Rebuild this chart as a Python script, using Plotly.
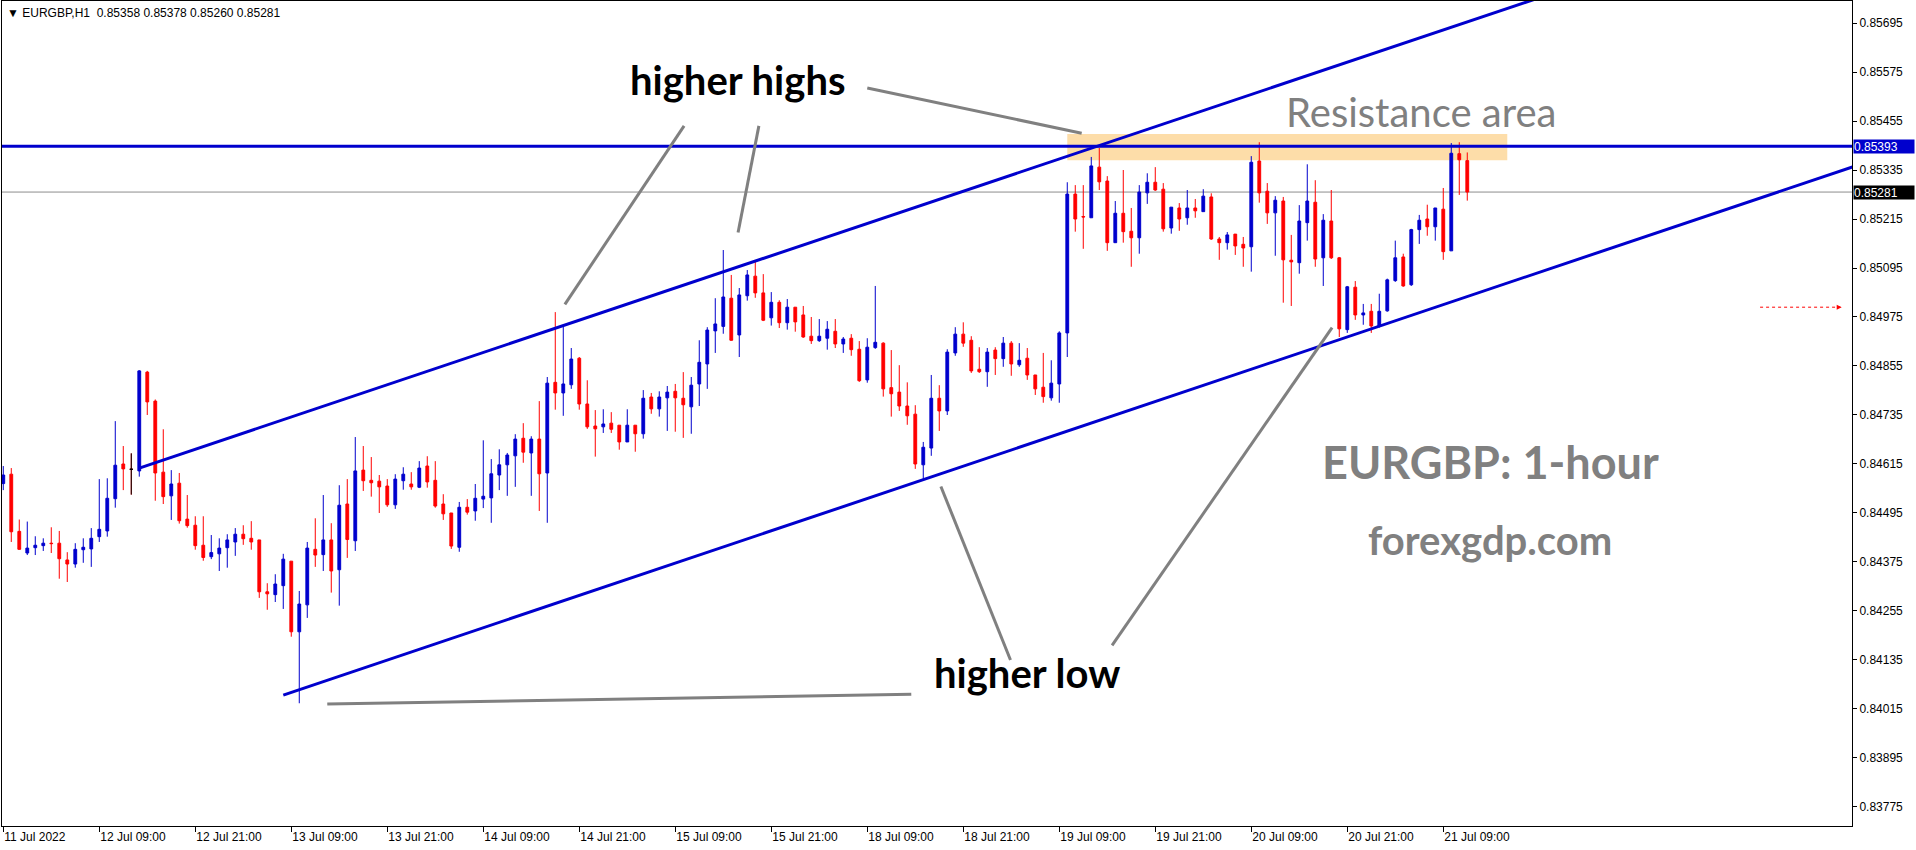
import plotly.graph_objects as go

# ---------------- data (EURGBP H1, bar index 0 = 11 Jul 2022 21:00) ----------------
opens = [0.84567,0.84590,0.84450,0.84397,0.84410,0.84415,0.84421,0.84421,0.84380,0.84370,
0.84405,0.84407,0.84437,0.84451,0.84530,0.84615,0.84602,0.84598,0.84840,0.84769,
0.84595,0.84537,0.84568,0.84480,0.84465,0.84416,0.84388,0.84395,0.84410,0.84424,
0.84443,0.84433,0.84429,0.84302,0.84295,0.84317,0.84377,0.84204,0.84270,0.84406,
0.84393,0.84429,0.84356,0.84517,0.84427,0.84600,0.84575,0.84573,0.84561,0.84515,
0.84574,0.84566,0.84558,0.84610,0.84575,0.84517,0.84495,0.84411,0.84509,0.84500,
0.84529,0.84532,0.84588,0.84613,0.84635,0.84678,0.84642,0.84676,0.84593,0.84815,
0.84789,0.84809,0.84874,0.84762,0.84708,0.84706,0.84715,0.84710,0.84669,0.84710,
0.84689,0.84779,0.84750,0.84777,0.84793,0.84776,0.84755,0.84811,0.84860,0.84941,
0.84952,0.85021,0.84931,0.85027,0.85075,0.85034,0.84973,0.85011,0.84961,0.84999,
0.84980,0.84928,0.84917,0.84923,0.84940,0.84909,0.84923,0.84896,0.84821,0.84900,
0.84911,0.84802,0.84791,0.84757,0.84737,0.84613,0.84654,0.84776,0.84745,0.84887,
0.84933,0.84918,0.84847,0.84841,0.84894,0.84873,0.84911,0.84858,0.84874,0.84833,
0.84803,0.84777,0.84811,0.84936,0.85276,0.85221,0.85218,0.85342,0.85308,0.85157,
0.85229,0.85185,0.85169,0.85279,0.85305,0.85288,0.85193,0.85242,0.85218,0.85242,
0.85233,0.85269,0.85166,0.85157,0.85178,0.85153,0.85147,0.85357,0.85283,0.85230,
0.85259,0.85114,0.85108,0.85206,0.85256,0.85120,0.85210,0.85120,0.84944,0.85048,
0.84980,0.84989,0.84953,0.84990,0.85064,0.85122,0.85054,0.85189,0.85215,0.85196,
0.85239,0.85137,0.85375,0.85358]

highs = [0.84610,0.84605,0.84479,0.84474,0.84438,0.84433,0.84460,0.84451,0.84399,0.84421,
0.84433,0.84458,0.84578,0.84580,0.84720,0.84659,0.84641,0.84845,0.84843,0.84773,
0.84700,0.84600,0.84593,0.84539,0.84487,0.84487,0.84441,0.84433,0.84443,0.84458,
0.84465,0.84475,0.84429,0.84323,0.84345,0.84395,0.84377,0.84304,0.84424,0.84482,
0.84539,0.84470,0.84563,0.84578,0.84681,0.84659,0.84632,0.84588,0.84578,0.84590,
0.84607,0.84595,0.84622,0.84634,0.84622,0.84541,0.84495,0.84522,0.84529,0.84566,
0.84673,0.84627,0.84651,0.84642,0.84688,0.84715,0.84683,0.84769,0.84828,0.84987,
0.84953,0.84899,0.84877,0.84820,0.84747,0.84749,0.84742,0.84710,0.84749,0.84710,
0.84796,0.84789,0.84793,0.84806,0.84811,0.84840,0.84828,0.84918,0.84950,0.85021,
0.85139,0.85078,0.85046,0.85090,0.85114,0.85080,0.85036,0.85016,0.85019,0.84999,
0.85002,0.84975,0.84970,0.84965,0.84970,0.84926,0.84933,0.84916,0.84923,0.85051,
0.84913,0.84894,0.84857,0.84815,0.84759,0.84669,0.84833,0.84808,0.84896,0.84950,
0.84962,0.84928,0.84901,0.84899,0.84901,0.84926,0.84916,0.84911,0.84899,0.84833,
0.84887,0.84869,0.84940,0.85305,0.85298,0.85298,0.85367,0.85389,0.85320,0.85259,
0.85335,0.85242,0.85298,0.85327,0.85342,0.85303,0.85244,0.85254,0.85286,0.85264,
0.85288,0.85278,0.85171,0.85183,0.85178,0.85171,0.85369,0.85403,0.85303,0.85271,
0.85269,0.85176,0.85249,0.85349,0.85310,0.85227,0.85286,0.85122,0.85051,0.85063,
0.85007,0.85007,0.85032,0.85069,0.85162,0.85130,0.85191,0.85225,0.85250,0.85242,
0.85291,0.85401,0.85403,0.85378]

lows = [0.84551,0.84424,0.84405,0.84392,0.84392,0.84402,0.84397,0.84334,0.84326,0.84361,
0.84373,0.84363,0.84424,0.84437,0.84508,0.84551,0.84540,0.84584,0.84735,0.84525,
0.84517,0.84478,0.84469,0.84459,0.84405,0.84378,0.84382,0.84353,0.84361,0.84390,
0.84417,0.84405,0.84287,0.84258,0.84277,0.84260,0.84192,0.84029,0.84238,0.84363,
0.84353,0.84300,0.84268,0.84385,0.84402,0.84549,0.84535,0.84495,0.84510,0.84505,
0.84552,0.84552,0.84556,0.84557,0.84508,0.84478,0.84407,0.84400,0.84491,0.84476,
0.84507,0.84471,0.84551,0.84537,0.84559,0.84618,0.84537,0.84500,0.84471,0.84748,
0.84733,0.84799,0.84748,0.84701,0.84633,0.84691,0.84691,0.84650,0.84669,0.84645,
0.84677,0.84738,0.84731,0.84696,0.84694,0.84679,0.84689,0.84757,0.84799,0.84887,
0.84934,0.84917,0.84877,0.85015,0.85022,0.84965,0.84954,0.84948,0.84944,0.84939,
0.84924,0.84909,0.84914,0.84895,0.84899,0.84887,0.84880,0.84816,0.84814,0.84897,
0.84780,0.84731,0.84745,0.84711,0.84603,0.84575,0.84635,0.84696,0.84735,0.84880,
0.84902,0.84838,0.84838,0.84804,0.84833,0.84853,0.84831,0.84853,0.84821,0.84784,
0.84765,0.84770,0.84765,0.84877,0.85184,0.85142,0.85218,0.85286,0.85137,0.85157,
0.85157,0.85098,0.85130,0.85252,0.85284,0.85184,0.85179,0.85186,0.85201,0.85218,
0.85233,0.85164,0.85115,0.85140,0.85127,0.85098,0.85086,0.85255,0.85203,0.85125,
0.85010,0.85002,0.85081,0.85162,0.85098,0.85051,0.85117,0.84926,0.84936,0.84968,
0.84956,0.84936,0.84949,0.84988,0.85061,0.85049,0.85051,0.85154,0.85174,0.85162,
0.85115,0.85137,0.85274,0.85260]

closes = [0.84588,0.84449,0.84406,0.84409,0.84416,0.84421,0.84420,0.84383,0.84370,0.84406,
0.84411,0.84433,0.84455,0.84531,0.84612,0.84603,0.84602,0.84843,0.84767,0.84593,
0.84535,0.84566,0.84476,0.84464,0.84415,0.84386,0.84398,0.84409,0.84429,0.84443,
0.84432,0.84424,0.84302,0.84297,0.84321,0.84382,0.84204,0.84272,0.84409,0.84392,
0.84429,0.84353,0.84514,0.84430,0.84598,0.84574,0.84569,0.84559,0.84515,0.84578,
0.84590,0.84559,0.84605,0.84571,0.84512,0.84493,0.84414,0.84509,0.84497,0.84531,
0.84536,0.84591,0.84613,0.84637,0.84676,0.84644,0.84676,0.84591,0.84813,0.84789,
0.84811,0.84872,0.84762,0.84706,0.84701,0.84713,0.84700,0.84669,0.84710,0.84689,
0.84776,0.84750,0.84779,0.84791,0.84777,0.84760,0.84808,0.84864,0.84943,0.84958,
0.85024,0.84918,0.85029,0.85078,0.85034,0.84967,0.85011,0.84961,0.84999,0.84963,
0.84926,0.84917,0.84928,0.84945,0.84909,0.84921,0.84895,0.84819,0.84901,0.84913,
0.84799,0.84787,0.84757,0.84733,0.84615,0.84656,0.84776,0.84745,0.84889,0.84933,
0.84911,0.84843,0.84841,0.84889,0.84873,0.84911,0.84860,0.84869,0.84833,0.84799,
0.84780,0.84813,0.84936,0.85276,0.85215,0.85220,0.85345,0.85306,0.85157,0.85229,
0.85184,0.85169,0.85281,0.85305,0.85286,0.85191,0.85244,0.85215,0.85242,0.85235,
0.85271,0.85166,0.85157,0.85176,0.85149,0.85144,0.85354,0.85279,0.85230,0.85261,
0.85115,0.85110,0.85210,0.85259,0.85117,0.85212,0.85120,0.84946,0.85049,0.84980,
0.84985,0.84953,0.84989,0.85066,0.85120,0.85051,0.85189,0.85212,0.85196,0.85242,
0.85135,0.85376,0.85360,0.85281]

bar_index = list(range(len(opens)))

tick_index = [0, 12, 24, 36, 48, 60, 72, 84, 96, 108, 120, 132, 144, 156, 168, 180]
tick_text = ["11 Jul 2022", "12 Jul 09:00", "12 Jul 21:00", "13 Jul 09:00", "13 Jul 21:00",
             "14 Jul 09:00", "14 Jul 21:00", "15 Jul 09:00", "15 Jul 21:00", "18 Jul 09:00",
             "18 Jul 21:00", "19 Jul 09:00", "19 Jul 21:00", "20 Jul 09:00", "20 Jul 21:00",
             "21 Jul 09:00"]
price_ticks = [0.83775, 0.83895, 0.84015, 0.84135, 0.84255, 0.84375, 0.84495, 0.84615,
               0.84735, 0.84855, 0.84975, 0.85095, 0.85215, 0.85335, 0.85455, 0.85575, 0.85695]

resistance_level = 0.85393
bid_price = 0.85281
resistance_zone = dict(x=[133, 188], y=[0.85359, 0.85423])
# channel lines: (bar index, price)
channel_upper = [(17, 0.84605), (230, 0.86007)]
channel_lower = [(35, 0.84049), (235, 0.85368)]
# annotation pointer lines: (bar index, price) pairs
pointer_lines = [
    [(85.1, 0.85443), (70.2, 0.85006)],
    [(94.45, 0.85443), (91.85, 0.85182)],
    [(108.0, 0.85536), (134.8, 0.85425)],
    [(113.5, 0.84051), (40.5, 0.84027)],
    [(125.9, 0.84135), (117.2, 0.84560)],
    [(138.6, 0.84171), (166.1, 0.84949)],
]
alert_level = 0.84999
alert_span = [219.6, 229.6]

# ---------------- style ----------------
BLUE = "#0000CD"
RED = "#FF0000"
GRAY = "#808080"
W, H = 1916, 850
ML, MR, MT, MB = 2, 64, 1, 24
PW, PH = W - ML - MR, H - MT - MB
X_RANGE = [-0.16, 231.09]
Y_RANGE = [0.837284, 0.857489]

def fx(xp):
    return (xp - ML) / PW

def fy(yp):
    return 1 - (yp - MT) / PH

fig = go.Figure()

fig.add_trace(go.Candlestick(
    x=bar_index, open=opens, high=highs, low=lows, close=closes,
    increasing=dict(line=dict(color=BLUE, width=1), fillcolor=BLUE),
    decreasing=dict(line=dict(color=RED, width=1), fillcolor=RED),
    whiskerwidth=0, showlegend=False, hoverinfo="skip"))

doji = [i for i in bar_index if opens[i] == closes[i]]
if doji:
    fig.add_trace(go.Candlestick(
        x=doji, open=[opens[i] for i in doji], high=[highs[i] for i in doji],
        low=[lows[i] for i in doji], close=[closes[i] for i in doji],
        increasing=dict(line=dict(color="black", width=1), fillcolor="black"),
        decreasing=dict(line=dict(color="black", width=1), fillcolor="black"),
        whiskerwidth=0, showlegend=False, hoverinfo="skip"))

shapes = []
shapes.append(dict(type="rect", xref="x", yref="y",
                   x0=resistance_zone["x"][0], x1=resistance_zone["x"][1],
                   y0=resistance_zone["y"][0], y1=resistance_zone["y"][1],
                   fillcolor="#FDDDA9", line=dict(width=0), layer="below"))
shapes.append(dict(type="line", xref="paper", yref="y", x0=0, x1=1,
                   y0=bid_price, y1=bid_price, line=dict(color="#8C8C8C", width=1), layer="below"))
shapes.append(dict(type="line", xref="paper", yref="y", x0=0, x1=1,
                   y0=resistance_level, y1=resistance_level, line=dict(color=BLUE, width=3)))
for (a, b) in [channel_upper, channel_lower]:
    shapes.append(dict(type="line", xref="x", yref="y", x0=a[0], y0=a[1], x1=b[0], y1=b[1],
                       line=dict(color=BLUE, width=3)))
for (a, b) in pointer_lines:
    shapes.append(dict(type="line", xref="x", yref="y", x0=a[0], y0=a[1], x1=b[0], y1=b[1],
                       line=dict(color=GRAY, width=3)))
shapes.append(dict(type="line", xref="x", yref="y", x0=alert_span[0], x1=alert_span[1],
                   y0=alert_level, y1=alert_level, line=dict(color=RED, width=1, dash="dot")))

annotations = []
annotations.append(dict(xref="x", yref="y", x=alert_span[1] + 0.2, y=alert_level,
                        ax=-6, ay=0, axref="pixel", ayref="pixel", text="", showarrow=True,
                        arrowhead=2, arrowsize=1, arrowwidth=1, arrowcolor=RED))
annotations.append(dict(xref="paper", yref="paper", x=fx(5), y=fy(13), xanchor="left",
                        yanchor="middle", showarrow=False,
                        text="\u25BC EURGBP,H1 \u00a00.85358 0.85378 0.85260 0.85281",
                        font=dict(family="Liberation Sans", size=12, color="black")))

def label(text, xc, yc, size, color, bold=True, family="Lato"):
    t = "<b>%s</b>" % text if bold else text
    annotations.append(dict(xref="paper", yref="paper", x=fx(xc), y=fy(yc),
                            xanchor="center", yanchor="middle", showarrow=False, text=t,
                            font=dict(family=family, size=size, color=color)))

label("higher highs", 738, 80, 40, "black")
label("higher low", 1027, 673, 40, "black")
label("Resistance area", 1421, 112, 40, GRAY, bold=False)
label("EURGBP: 1-hour", 1490, 462, 45, GRAY)
label("forexgdp.com", 1490, 540, 40, GRAY)

for lvl, bg in [(resistance_level, BLUE), (bid_price, "black")]:
    annotations.append(dict(xref="paper", yref="y", x=1.0006, y=lvl, xanchor="left",
                            yanchor="middle", showarrow=False, text="%.5f" % lvl,
                            bgcolor=bg, width=60, height=13, align="left", borderpad=0,
                            font=dict(family="Liberation Sans", size=12, color="white")))

fig.update_layout(
    width=W, height=H, margin=dict(l=ML, r=MR, t=MT, b=MB, pad=0),
    paper_bgcolor="white", plot_bgcolor="white",
    boxgap=0.5, showlegend=False, shapes=shapes, annotations=annotations,
    xaxis=dict(range=X_RANGE, rangeslider=dict(visible=False), showgrid=False, zeroline=False,
               tickmode="array", tickvals=tick_index, ticktext=tick_text,
               ticks="outside", ticklen=5, tickcolor="black", showline=True, linecolor="black",
               linewidth=1, mirror=True, ticklabelposition="outside right",
               tickfont=dict(family="Liberation Sans", size=12, color="black")),
    yaxis=dict(range=Y_RANGE, side="right", showgrid=False, zeroline=False,
               tickmode="array", tickvals=price_ticks, ticktext=["%.5f" % v for v in price_ticks],
               ticks="outside", ticklen=4, tickcolor="black", showline=True, linecolor="black",
               linewidth=1, mirror=True,
               tickfont=dict(family="Liberation Sans", size=12, color="black")),
)

fig.write_html("out.html", config={"displayModeBar": False},
               post_script="document.body.style.margin='0';document.body.style.overflow='hidden';")
